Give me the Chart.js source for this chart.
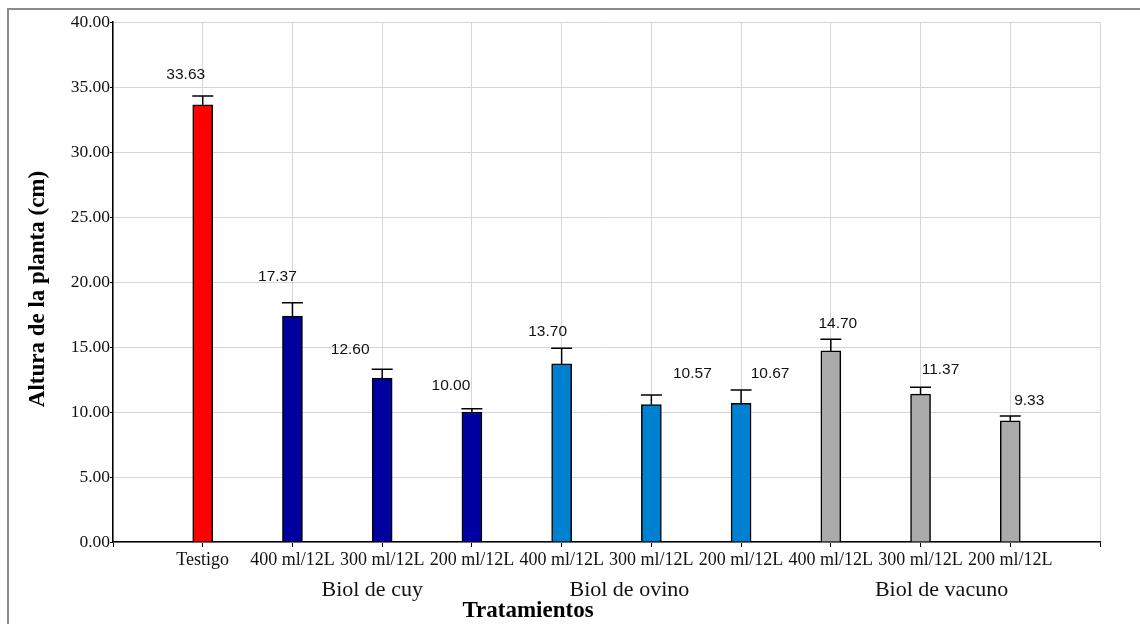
<!DOCTYPE html>
<html><head><meta charset="utf-8">
<script src="https://cdn.jsdelivr.net/npm/chart.js@4.4.0/dist/chart.umd.min.js"></script>
<style>html,body{margin:0;padding:0;background:#fff;overflow:hidden}</style>
</head><body>
<canvas id="c" width="1140" height="624" style="display:block;width:1140px;height:624px"></canvas>
<script>
// ---- data ----
const categories = ['Testigo','400 ml/12L','300 ml/12L','200 ml/12L','400 ml/12L','300 ml/12L','200 ml/12L','400 ml/12L','300 ml/12L','200 ml/12L'];
const groupNames = ['Biol de cuy','Biol de ovino','Biol de vacuno'];
const groupOf = [-1,0,0,0,1,1,1,2,2,2];
const values = [33.63,17.37,12.60,10.00,13.70,10.57,10.67,14.70,11.37,9.33];
const errors = [0.67,1.04,0.68,0.25,1.20,0.74,1.02,0.89,0.53,0.36];
const yTicks = [0,5,10,15,20,25,30,35,40];

// ---- styles ----
const testigoColor = '#ff0000';
const groupColors = ['#0000a0','#0080d0','#aaaaaa'];
const labelOffsets = [[-17,-21],[-15,-26],[-32,-20],[-21,-23],[-14,-17],[41,-21],[29,-16],[7,-16],[20,-18],[19,-15]];
const groupLabelDx = [-10,-22,21];

const labels = [''].concat(categories, ['']);
const data = [null].concat(values, [null]);
const colors = [null].concat(groupOf.map(g => g < 0 ? testigoColor : groupColors[g]), [null]);

const serif = "'Liberation Serif', 'Times New Roman', serif";
const sans = "'Liberation Sans', Arial, sans-serif";

const decor = {
  id: 'decor',
  beforeDraw(chart) {
    const ctx = chart.ctx;
    ctx.save();
    ctx.fillStyle = '#fff';
    ctx.fillRect(0, 0, chart.width, chart.height);
    ctx.fillStyle = '#8a8a8a';
    ctx.fillRect(7, 8, chart.width - 7, 2);
    ctx.fillRect(7, 8, 2, chart.height - 8);
    ctx.restore();
  },
  afterDatasetsDraw(chart) {
    const ctx = chart.ctx;
    const xs = chart.scales.x, ys = chart.scales.y;
    ctx.save();
    ctx.strokeStyle = '#000';
    ctx.lineWidth = 1.5;
    values.forEach((v, i) => {
      const x = xs.getPixelForValue(i + 1);
      const yv = ys.getPixelForValue(v);
      const ye = ys.getPixelForValue(v + errors[i]);
      ctx.beginPath();
      ctx.moveTo(x, yv);
      ctx.lineTo(x, ye);
      ctx.moveTo(x - 10.5, ye);
      ctx.lineTo(x + 10.5, ye);
      ctx.stroke();
      ctx.fillStyle = '#111';
      ctx.font = '15.5px ' + sans;
      ctx.textAlign = 'center';
      ctx.textBaseline = 'middle';
      ctx.fillText(v.toFixed(2), x + labelOffsets[i][0], ye + labelOffsets[i][1]);
    });
    // group labels
    ctx.fillStyle = '#111';
    ctx.font = '22px ' + serif;
    ctx.textAlign = 'center';
    ctx.textBaseline = 'middle';
    groupNames.forEach((g, gi) => {
      const idx = groupOf.map((v, k) => v === gi ? k : -1).filter(k => k >= 0);
      const mid = idx[Math.floor(idx.length / 2)];
      const x = xs.getPixelForValue(mid + 1) + groupLabelDx[gi];
      ctx.fillText(g, x, 590);
    });
    // axis titles
    ctx.fillStyle = '#000';
    ctx.font = 'bold 23px ' + serif;
    ctx.fillText('Tratamientos', 528, 611);
    ctx.translate(38, 289);
    ctx.rotate(-Math.PI / 2);
    ctx.font = 'bold 23px ' + serif;
    ctx.fillText('Altura de la planta (cm)', 0, 0);
    ctx.restore();
  }
};

new Chart(document.getElementById('c'), {
  type: 'bar',
  data: {
    labels: labels,
    datasets: [{
      data: data,
      backgroundColor: colors,
      borderColor: '#000',
      borderWidth: 1.5,
      barThickness: 20
    }]
  },
  options: {
    responsive: false,
    animation: false,
    devicePixelRatio: 1,
    layout: { padding: { top: 22, right: 40, left: 0, bottom: 0 } },
    plugins: { legend: { display: false }, tooltip: { enabled: false } },
    scales: {
      x: {
        type: 'category',
        offset: false,
        grid: { color: '#d6d6d6', lineWidth: 1, tickLength: 5, tickColor: '#000', offset: false },
        border: { color: '#000', width: 1.5 },
        ticks: { font: { family: serif, size: 18 }, color: '#111', autoSkip: false, maxRotation: 0, minRotation: 0, padding: 2 },
        afterFit: s => { s.height = 82; }
      },
      y: {
        min: 0, max: 40,
        afterBuildTicks: s => { s.ticks = yTicks.map(v => ({ value: v })); },
        grid: { color: '#d6d6d6', lineWidth: 1, tickLength: 3, tickColor: '#000' },
        border: { color: '#000', width: 1.5 },
        ticks: { font: { family: serif, size: 17.5 }, color: '#111', padding: 0, callback: v => Number(v).toFixed(2) },
        afterFit: s => { s.width = 113; }
      }
    }
  },
  plugins: [decor]
});
</script>
</body></html>
